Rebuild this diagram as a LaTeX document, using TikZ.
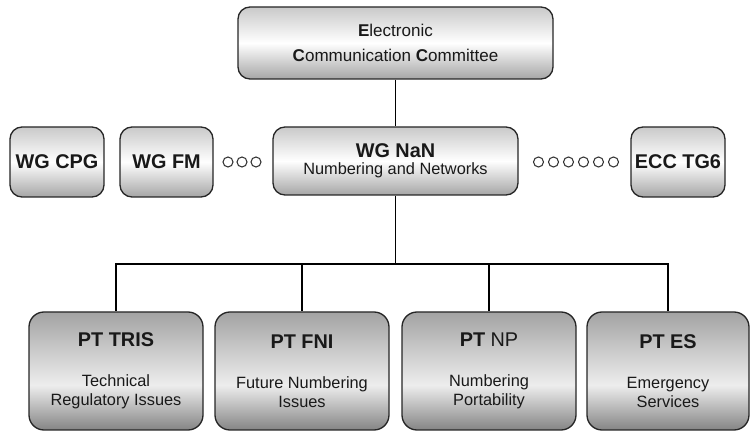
\documentclass[tikz,border=0pt]{standalone}
\usepackage{fontspec}
\setmainfont{Liberation Sans}
\usepackage{tikz}

\pgfdeclareverticalshading{wgshade}{100bp}{color(0bp)=(gray!70); color(25bp)=(gray!70); color(50bp)=(white); color(75bp)=(gray!42); color(100bp)=(gray!42)}
\pgfdeclareverticalshading{ptshade}{100bp}{color(0bp)=(gray!105); color(25bp)=(black!48); color(44bp)=(white!93!black); color(75bp)=(black!36); color(100bp)=(black!36)}
\newcommand{\boxtitle}[1]{{\fontsize{11.3}{13}\selectfont #1}}

\begin{document}
\begin{tikzpicture}[y=-1cm, -]
            \tikzstyle{wgbox}=[rectangle,rounded corners=0.24cm,draw=black!85,line width=0.75pt,shade,shading=wgshade,minimum width=1.88cm,minimum height=1.4cm,inner sep=0pt,align=center,text=black!90,font=\fontsize{9.3}{9.8}\selectfont]
            \tikzstyle{ptbox}=[rectangle,rounded corners=0.3cm,draw=black!85,line width=0.75pt,shade,shading=ptshade,minimum width=3.48cm,minimum height=2.36cm,inner sep=0pt,align=center,text=black!90,font=\fontsize{9.3}{10.8}\selectfont]
            \tikzstyle{ringline}=[draw=black!80,fill=white,line width=0.6pt]
            \useasboundingbox (0,0) rectangle (15,8.64);

                \node[wgbox,minimum width=6.3cm,minimum height=1.44cm,font=\fontsize{9.7}{14.2}\selectfont] (ECC) at (7.91, 0.86){\textbf{E}lectronic\\\textbf{C}ommunication \textbf{C}ommittee};
                \node[wgbox,minimum width=4.9cm,minimum height=1.36cm] (WG-NaN) at (7.91, 3.22){\boxtitle{\textbf{WG NaN}}\\Numbering and Networks};
                \node[wgbox] (WG-CPG) at (1.14, 3.24){\boxtitle{\textbf{WG CPG}}};
                \node[wgbox,minimum width=1.86cm] (WG-FM) at (3.33, 3.24){\boxtitle{\textbf{WG FM}}};
                \node[wgbox] (ECC-TG6) at (13.56, 3.24){\boxtitle{\textbf{ECC TG6}}};

                \node[ptbox] (PT-TRIS) at (2.32, 7.42){\boxtitle{\textbf{PT TRIS}}\\[12pt]Technical\\Regulatory Issues};
                \node[ptbox] (PT-FNI) at (6.04, 7.42){\boxtitle{\textbf{PT FNI}}\\[12pt]Future Numbering\\Issues};
                \node[ptbox] (PT-NP) at (9.78, 7.42){\boxtitle{\textbf{PT} NP}\\[12pt]Numbering\\Portability};
                \node[ptbox,minimum width=3.24cm] (PT-ES) at (13.36, 7.42){\boxtitle{\textbf{PT ES}}\\[12pt]Emergency\\Services};

                \coordinate (bus) at (WG-NaN.south |- 0, 5.28);

                \draw[line width=0.6pt] (ECC) -- (WG-NaN);
                \draw[line width=0.6pt] (WG-NaN) -- (bus);
                \foreach \to in {TRIS, FNI, NP, ES}
                    \draw[line width=0.6pt] (bus) -| (PT-\to.north);

                % circles between the working groups
                \foreach \x in {4.56, 4.84, 5.12}
                    \draw[ringline] (\x, 3.24) circle (0.1);
                \foreach \x in {10.77, 11.07, 11.37, 11.67, 11.97, 12.27}
                    \draw[ringline] (\x, 3.24) circle (0.1);
        \end{tikzpicture}
\end{document}
